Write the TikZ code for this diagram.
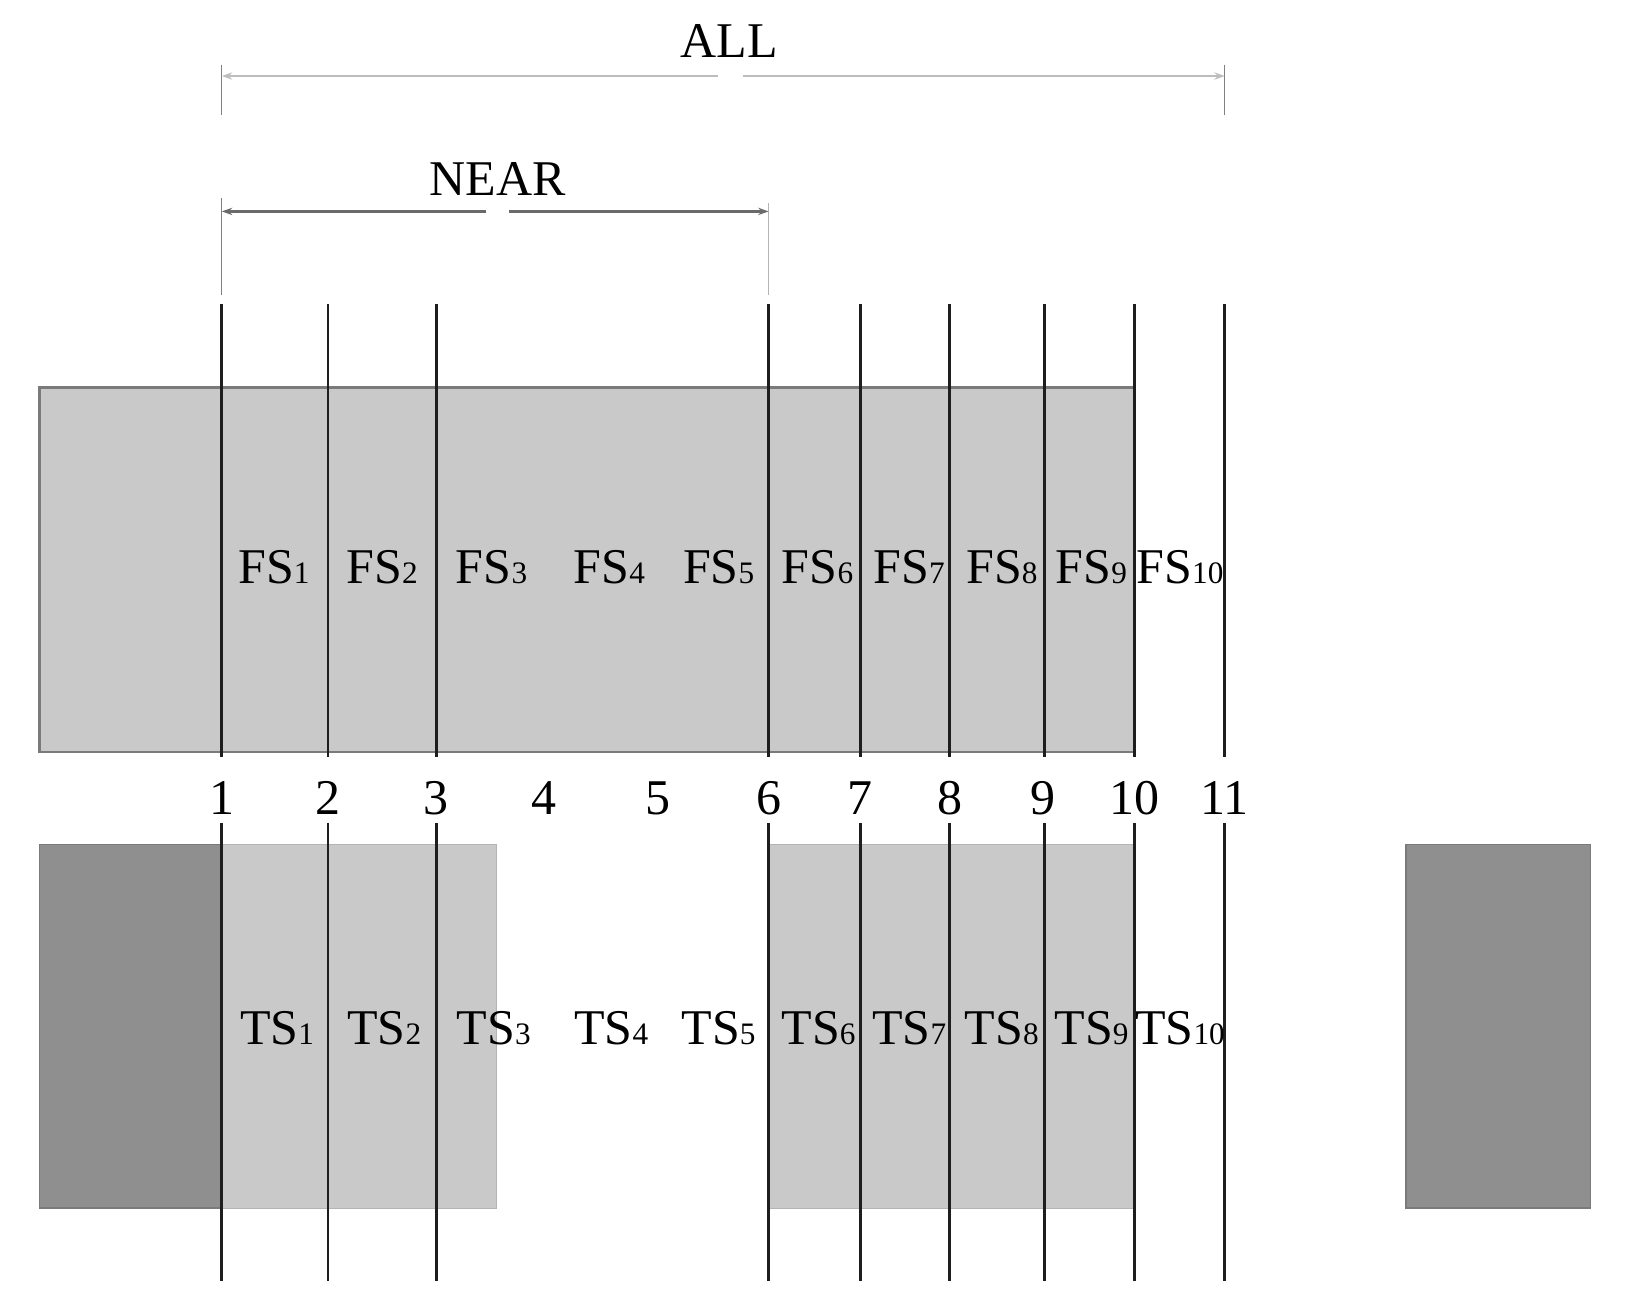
\documentclass[tikz,border=0pt]{standalone}
\usepackage{fontspec}
\setmainfont{Liberation Serif}
\usetikzlibrary{arrows.meta}
\definecolor{lightfill}{HTML}{C9C9C9}
\definecolor{darkfill}{HTML}{8F8F8F}
\definecolor{edgegray}{HTML}{7A7A7A}
\definecolor{softedge}{HTML}{B4B4B4}
\definecolor{linecol}{HTML}{1E1E1E}
\definecolor{allcol}{HTML}{BDBDBD}
\definecolor{nearcol}{HTML}{6A6A6A}
\newcommand\mysub[1]{{\fontsize{15}{15}\selectfont #1}}
\begin{document}
\begin{tikzpicture}[x=0.5pt,y=-0.5pt,
  sect/.style={draw=linecol,line width=1.3pt},
  lbl/.style={font=\fontsize{24}{24}\selectfont, inner sep=0pt, anchor=base},
  lightbox/.style={fill=lightfill,draw=softedge,line width=0.5pt},
  topbox/.style={fill=lightfill,draw=edgegray,line width=1.2pt},
  darkbox/.style={fill=darkfill,draw=edgegray,line width=0.6pt},
  tickline/.style={draw=gray,line width=0.5pt},
  allline/.style={draw=allcol,line width=1.4pt},
  nearline/.style={draw=nearcol,line width=1.1pt},
  tip/.style={-{Stealth[length=5pt,width=3.5pt]}}]
\useasboundingbox (0,0) rectangle (1568,1263);

% boxes
\path[topbox] (38,372) rectangle (1089,722);
\path[darkbox] (38,811) rectangle (213,1160);
\path[lightbox] (213,811) rectangle (477,1160);
\path[lightbox] (738,811) rectangle (1089,1160);
\path[darkbox] (1350,811) rectangle (1527,1160);

% section lines
\foreach \x in {213,315,419,738,826,912,1003,1089,1176}{
  \draw[sect] (\x,292) -- (\x,727);
  \draw[sect] (\x,790) -- (\x,1230);
}

% numbers
\foreach \i/\x in {1/213,2/315,3/419,4/522,5/632,6/738,7/826,8/912,9/1001,10/1089,11/1176}{
  \node[lbl] (n\i) at (\x,782) {\i};
}

% FS labels
\foreach \i/\x in {1/263,2/367,3/472,4/585,5/690,6/785,7/873,8/962,9/1048,10/1133}{
  \node[lbl] (fs\i) at (\x,560) {FS\mysub{\i}};
}
% TS labels
\foreach \i/\x in {1/266,2/369,3/474,4/587,5/690,6/786,7/873,8/962,9/1048,10/1133}{
  \node[lbl] (ts\i) at (\x,1003) {TS\mysub{\i}};
}

% dimension ALL
\node[lbl] (all) at (700,55) {ALL};
\draw[tickline] (213,62) -- (213,110);
\draw[tickline] (1176,62) -- (1176,110);
\coordinate (allL) at (213,73);
\coordinate (allR) at (1176,73);
\coordinate (allG1) at (689,73);
\coordinate (allG2) at (713,73);
\draw[allline,tip] (allG1) -- (allL);
\draw[allline,tip] (allG2) -- (allR);

% dimension NEAR
\node[lbl] (near) at (478,188) {NEAR};
\draw[tickline] (213,190) -- (213,283);
\draw[tickline,draw=softedge] (738,195) -- (738,283);
\coordinate (nearL) at (213,203);
\coordinate (nearR) at (738,203);
\coordinate (nearG1) at (467,203);
\coordinate (nearG2) at (489,203);
\draw[nearline,tip] (nearG1) -- (nearL);
\draw[nearline,tip] (nearG2) -- (nearR);
\end{tikzpicture}
\end{document}
